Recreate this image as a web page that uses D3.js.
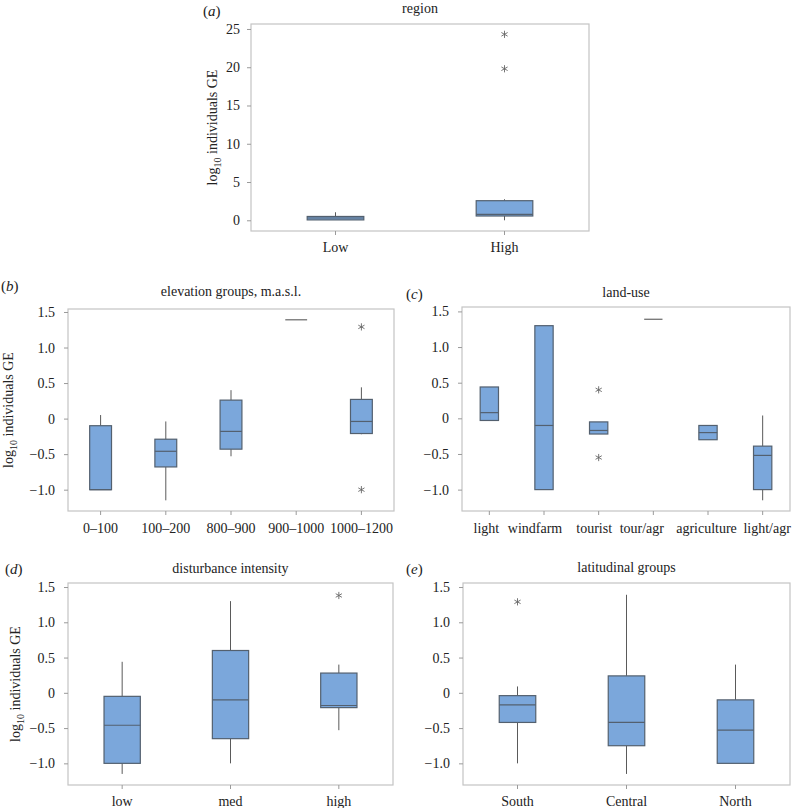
<!DOCTYPE html>
<html>
<head>
<meta charset="utf-8">
<script src="https://cdn.jsdelivr.net/npm/d3@7"></script>
<style>
  html, body { margin: 0; padding: 0; background: #fff; }
  svg { display: block; }
  text { font-family: "Liberation Serif", "Times New Roman", serif; fill: #222; }
</style>
</head>
<body>
<svg id="chart" width="792" height="808"></svg>
<script>
// ---------------- DATA ----------------
// (a) region
const regionCats   = ["Low", "High"];
const regionWLow   = [0.05, 0.0];
const regionQ1     = [0.05, 0.56];
const regionMed    = [0.3, 0.78];
const regionQ3     = [0.5, 2.56];
const regionWHigh  = [1.05, 2.75];
const regionOut    = [[], [24.3, 19.8]];
const regionTicks  = [0, 5, 10, 15, 20, 25];

// (b) elevation groups
const elevCats  = ["0–100", "100–200", "800–900", "900–1000", "1000–1200"];
const elevWLow  = [-1.0, -1.15, -0.53, 1.39, -0.22];
const elevQ1    = [-1.0, -0.68, -0.43, 1.39, -0.21];
const elevMed   = [-1.0, -0.46, -0.18, 1.39, -0.04];
const elevQ3    = [-0.1, -0.29, 0.26, 1.39, 0.27];
const elevWHigh = [0.05, -0.04, 0.40, 1.39, 0.44];
const elevOut   = [[], [], [], [], [1.29, -1.0]];

// (c) land-use
const landCats  = ["light", "windfarm", "tourist", "tour/agr", "agriculture", "light/agr"];
const landWLow  = [-0.03, -1.0, -0.22, 1.39, -0.30, -1.15];
const landQ1    = [-0.03, -1.0, -0.22, 1.39, -0.30, -1.0];
const landMed   = [0.08, -0.1, -0.17, 1.39, -0.20, -0.52];
const landQ3    = [0.44, 1.30, -0.05, 1.39, -0.10, -0.39];
const landWHigh = [0.44, 1.30, -0.05, 1.39, -0.10, 0.04];
const landOut   = [[], [], [0.40, -0.55], [], [], []];

// (d) disturbance intensity
const distCats  = ["low", "med", "high"];
const distWLow  = [-1.15, -1.0, -0.53];
const distQ1    = [-1.0, -0.65, -0.21];
const distMed   = [-0.46, -0.1, -0.18];
const distQ3    = [-0.05, 0.60, 0.28];
const distWHigh = [0.44, 1.30, 0.40];
const distOut   = [[], [], [1.38]];

// (e) latitudinal groups
const latCats  = ["South", "Central", "North"];
const latWLow  = [-1.0, -1.15, -1.0];
const latQ1    = [-0.42, -0.75, -1.0];
const latMed   = [-0.17, -0.42, -0.53];
const latQ3    = [-0.04, 0.24, -0.10];
const latWHigh = [0.09, 1.39, 0.40];
const latOut   = [[1.29], [], []];

const smallTicks = [-1.0, -0.5, 0, 0.5, 1.0, 1.5];

// ---------------- DRAW ----------------
const svg = d3.select("#chart");
const FILL = "#7ba7db", BOXSTROKE = "#53606f", WHISK = "#5a5a5a", FRAME = "#c4c4c4";

function fmtSmall(v) {
  if (v === 0) return "0";
  return (v < 0 ? "\u2212" : "") + Math.abs(v).toFixed(1);
}

function panel(cfg) {
  const g = svg.append("g");
  const {L, R, T, B} = cfg;
  const x = d3.scaleBand().domain(cfg.cats).range([L, R]).padding(0);
  const y = d3.scaleLinear().domain(cfg.domain).range([B, T]);
  const bw = x.bandwidth() * 0.335;

  // frame
  g.append("rect").attr("x", L).attr("y", T).attr("width", R - L).attr("height", B - T)
    .attr("fill", "none").attr("stroke", FRAME).attr("stroke-width", 1.2);

  // axes
  const yAx = d3.axisLeft(y).tickValues(cfg.ticks).tickFormat(cfg.fmt).tickSize(4).tickPadding(7);
  const ya = g.append("g").attr("transform", `translate(${L},0)`).call(yAx);
  const xAx = d3.axisBottom(x).tickSize(4).tickPadding(cfg.xPad || 6);
  const xa = g.append("g").attr("transform", `translate(0,${B})`).call(xAx);
  [ya, xa].forEach(a => {
    a.select(".domain").remove();
    a.selectAll(".tick line").attr("stroke", "#9a9a9a");
    a.selectAll(".tick text").attr("font-size", 14).attr("fill", "#222")
      .attr("font-family", "'Liberation Serif', 'Times New Roman', serif");
  });
  if (cfg.yLabelShift) ya.selectAll(".tick text").attr("x", -4 - cfg.yLabelShift);
  if (cfg.xLabelDx) xa.selectAll(".tick text").attr("dx", (d, i) => cfg.xLabelDx[cfg.cats.indexOf(d)] || 0);

  // boxes
  cfg.cats.forEach((c, i) => {
    const cx = x(c) + x.bandwidth() / 2;
    // whiskers
    if (cfg.wHigh[i] > cfg.q3[i])
      g.append("line").attr("x1", cx).attr("x2", cx).attr("y1", y(cfg.q3[i])).attr("y2", y(cfg.wHigh[i]))
        .attr("stroke", WHISK).attr("stroke-width", 1);
    if (cfg.wLow[i] < cfg.q1[i])
      g.append("line").attr("x1", cx).attr("x2", cx).attr("y1", y(cfg.q1[i])).attr("y2", y(cfg.wLow[i]))
        .attr("stroke", WHISK).attr("stroke-width", 1);
    const h = y(cfg.q1[i]) - y(cfg.q3[i]);
    if (h > 0.5) {
      g.append("rect").attr("x", cx - bw / 2).attr("y", y(cfg.q3[i])).attr("width", bw).attr("height", h)
        .attr("fill", FILL).attr("stroke", BOXSTROKE).attr("stroke-width", 1.2);
    }
    g.append("line").attr("x1", cx - bw / 2).attr("x2", cx + bw / 2)
      .attr("y1", y(cfg.med[i])).attr("y2", y(cfg.med[i]))
      .attr("stroke", h > 0.5 ? BOXSTROKE : "#666").attr("stroke-width", 1.2);
    // outliers as asterisks
    cfg.out[i].forEach(v => {
      const cy = y(v), r = 3.6;
      const a = Math.PI / 6;
      const d = `M${cx},${cy - r}L${cx},${cy + r}` +
        `M${cx - r * Math.cos(a)},${cy - r * Math.sin(a)}L${cx + r * Math.cos(a)},${cy + r * Math.sin(a)}` +
        `M${cx - r * Math.cos(a)},${cy + r * Math.sin(a)}L${cx + r * Math.cos(a)},${cy - r * Math.sin(a)}`;
      g.append("path").attr("d", d).attr("stroke", "#666").attr("stroke-width", 0.9).attr("fill", "none");
    });
  });

  // title
  g.append("text").attr("x", (L + R) / 2).attr("y", cfg.titleY).attr("text-anchor", "middle")
    .attr("font-size", 14).text(cfg.title);
  // panel letter
  const pl = g.append("text").attr("x", cfg.letterX).attr("y", cfg.letterY).attr("font-size", 15);
  pl.append("tspan").text("(");
  pl.append("tspan").attr("font-style", "italic").text(cfg.letter);
  pl.append("tspan").text(")");
  // y label
  if (cfg.yLabX !== undefined) {
    const yl = g.append("text").attr("transform", `translate(${cfg.yLabX},${(T + B) / 2}) rotate(-90)`)
      .attr("text-anchor", "middle").attr("font-size", 14);
    yl.append("tspan").text("log");
    yl.append("tspan").attr("font-size", 10).attr("dy", 4).text("10");
    yl.append("tspan").attr("dy", -4).text(" individuals GE");
  }
}

panel({ L: 251, R: 589, T: 24, B: 231, domain: [-1.4, 25.65], ticks: regionTicks, fmt: d => String(d),
  cats: regionCats, wLow: regionWLow, q1: regionQ1, med: regionMed, q3: regionQ3, wHigh: regionWHigh, out: regionOut,
  title: "region", titleY: 13, letter: "a", letterX: 203, letterY: 16, yLabX: 217, xPad: 7 });

panel({ L: 68, R: 394, T: 309, B: 511, domain: [-1.30, 1.542], ticks: smallTicks, fmt: fmtSmall,
  cats: elevCats, wLow: elevWLow, q1: elevQ1, med: elevMed, q3: elevQ3, wHigh: elevWHigh, out: elevOut,
  title: "elevation groups, m.a.s.l.", titleY: 296, letter: "b", letterX: 1, letterY: 291, yLabX: 13, xPad: 8, yLabelShift: 9 });

panel({ L: 462, R: 790, T: 307, B: 511, domain: [-1.30, 1.562], ticks: smallTicks, fmt: fmtSmall,
  cats: landCats, wLow: landWLow, q1: landQ1, med: landMed, q3: landQ3, wHigh: landWHigh, out: landOut,
  title: "land-use", titleY: 297, letter: "c", letterX: 406, letterY: 299, xPad: 8, yLabelShift: 9,
  xLabelDx: [-3, -9, -4.5, -11.5, -1.5, 4.5] });

panel({ L: 68, R: 393, T: 583, B: 785, domain: [-1.307, 1.557], ticks: smallTicks, fmt: fmtSmall,
  cats: distCats, wLow: distWLow, q1: distQ1, med: distMed, q3: distQ3, wHigh: distWHigh, out: distOut,
  title: "disturbance intensity", titleY: 573, letter: "d", letterX: 5, letterY: 574, yLabX: 20, xPad: 7, yLabelShift: 9 });

panel({ L: 463, R: 790, T: 583, B: 785, domain: [-1.307, 1.557], ticks: smallTicks, fmt: fmtSmall,
  cats: latCats, wLow: latWLow, q1: latQ1, med: latMed, q3: latQ3, wHigh: latWHigh, out: latOut,
  title: "latitudinal groups", titleY: 572, letter: "e", letterX: 406, letterY: 574, xPad: 7, yLabelShift: 9 });
</script>
</body>
</html>
